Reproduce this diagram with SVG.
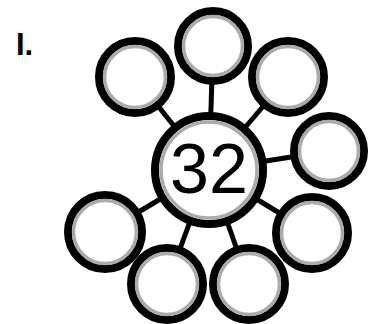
<svg xmlns="http://www.w3.org/2000/svg" width="370" height="324" viewBox="0 0 370 324">
<style>
.ring{fill:#fff;stroke:#000;stroke-width:8}
.inner{fill:none;stroke:#ababab;stroke-width:3.5}
.conn line{stroke:#000;stroke-width:5}
.lbl{font-family:"Liberation Sans",Arial,sans-serif;fill:#000}
</style>
<rect width="370" height="324" fill="#fff"/>
<text class="lbl" x="16" y="55" font-size="31" font-weight="bold">I.</text>
<g id="connectors" class="conn">
<line x1="209" y1="170" x2="135" y2="77"/>
<line x1="209" y1="170" x2="213" y2="46"/>
<line x1="209" y1="170" x2="288" y2="77"/>
<line x1="209" y1="170" x2="329" y2="151"/>
<line x1="209" y1="170" x2="312" y2="233"/>
<line x1="209" y1="170" x2="249" y2="284"/>
<line x1="209" y1="170" x2="167" y2="284"/>
<line x1="209" y1="170" x2="105" y2="232"/>
</g>
<g id="center">
<circle class="ring" cx="209" cy="170" r="54"/>
<circle class="inner" cx="209" cy="170" r="48"/>
<text class="lbl" x="209" y="193" font-size="70" text-anchor="middle">32</text>
</g>
<g id="n1"><circle class="ring" cx="135" cy="77" r="36"/><circle class="inner" cx="135" cy="77" r="30.5"/></g>
<g id="n2"><circle class="ring" cx="213" cy="46" r="35"/><circle class="inner" cx="213" cy="46" r="29.5"/></g>
<g id="n3"><circle class="ring" cx="288" cy="77" r="36"/><circle class="inner" cx="288" cy="77" r="30.5"/></g>
<g id="n4"><circle class="ring" cx="329" cy="151" r="35"/><circle class="inner" cx="329" cy="151" r="29.5"/></g>
<g id="n5"><circle class="ring" cx="312" cy="233" r="36"/><circle class="inner" cx="312" cy="233" r="30.5"/></g>
<g id="n6"><circle class="ring" cx="249" cy="284" r="36"/><circle class="inner" cx="249" cy="284" r="30.5"/></g>
<g id="n7"><circle class="ring" cx="167" cy="284" r="36"/><circle class="inner" cx="167" cy="284" r="30.5"/></g>
<g id="n8"><circle class="ring" cx="105" cy="232" r="37"/><circle class="inner" cx="105" cy="232" r="31.5"/></g>
</svg>
